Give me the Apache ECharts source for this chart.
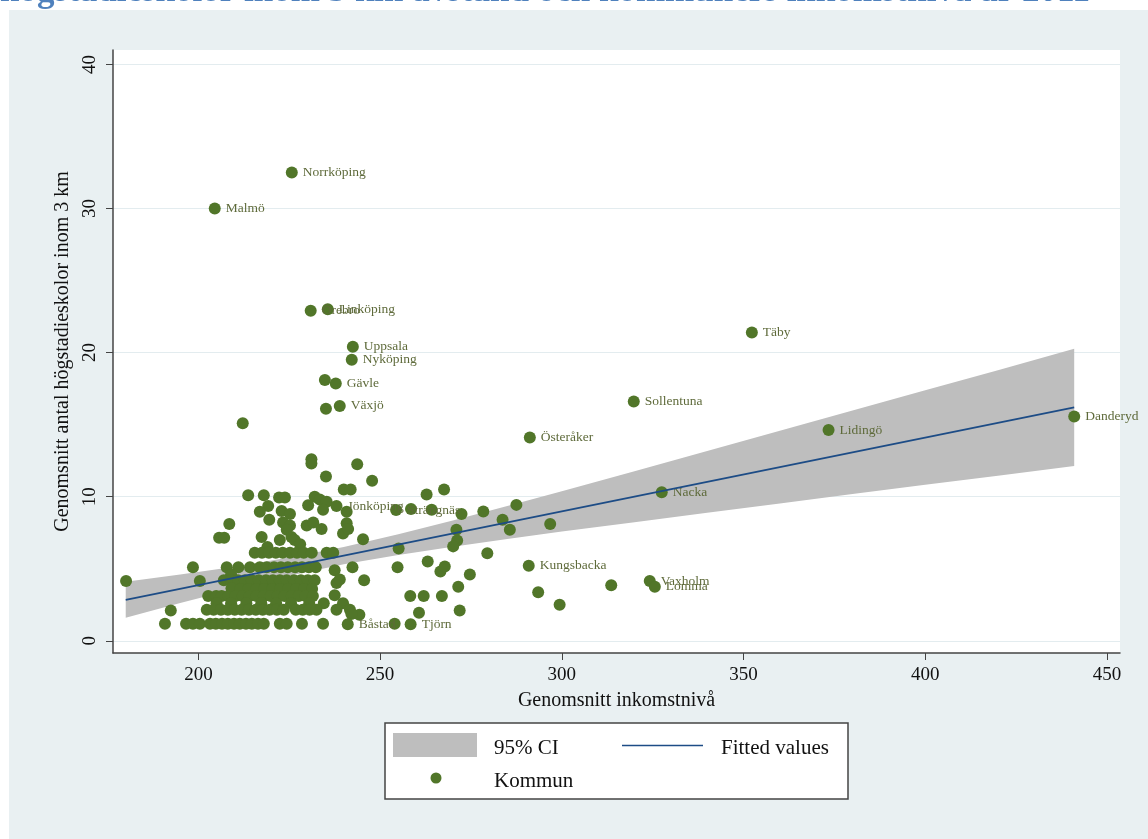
<!DOCTYPE html>
<html>
<head>
<meta charset="utf-8">
<title>Högstadieskolor och inkomstnivå</title>
<script src="https://cdn.jsdelivr.net/npm/echarts/dist/echarts.min.js"></script>
<style>
  html, body { margin: 0; padding: 0; background: #fff; }
  #chart { width: 1148px; height: 839px; }
</style>
</head>
<body>
<div id="chart"></div>
<script>
// tick values
const xTicks = [200, 250, 300, 350, 400, 450]
const yTicks = [0, 10, 20, 30, 40]

// fitted line (endpoints) and 95% CI band
const fitX = [180, 441]
const fitY = [2.84, 16.2]
const ciX  = [180, 195, 210, 225, 240, 255, 270, 285, 300, 320, 340, 360, 380, 400, 420, 441]
const ciLo = [1.59, 2.62, 3.60, 4.51, 5.31, 5.96, 6.53, 7.06, 7.58, 8.23, 8.89, 9.53, 10.18, 10.82, 11.46, 12.13]
const ciHi = [4.09, 4.60, 5.14, 5.77, 6.51, 7.40, 8.35, 9.36, 10.38, 11.77, 13.17, 14.57, 15.98, 17.38, 18.78, 20.27]

// labelled kommuner
const namn  = ['Norrköping', 'Malmö', 'Örebro', 'Linköping', 'Uppsala', 'Nyköping', 'Gävle', 'Växjö', 'Täby',
  'Sollentuna', 'Österåker', 'Lidingö', 'Danderyd', 'Nacka', 'Jönköping', 'Strängnäs', 'Kungsbacka', 'Vaxholm',
  'Lomma', 'Båstad', 'Tjörn']
const namnX = [225.7, 204.5, 230.9, 235.6, 242.5, 242.2, 237.8, 238.9, 352.3, 319.8, 291.2, 373.4, 441.0, 327.5,
  238.0, 254.4, 290.9, 324.2, 325.6, 241.1, 258.4]
const namnY = [32.5, 30.0, 22.9, 23.0, 20.4, 19.5, 17.85, 16.3, 21.4, 16.6, 14.1, 14.63, 15.56, 10.3,
  9.35, 9.07, 5.2, 4.15, 3.74, 1.15, 1.15]

// other kommuner [inkomst, skolor]
const ovriga = [
  [234.8,18.1],[235.1,16.1],[212.2,15.1],
  [231.1,12.6],[231.1,12.3],[243.7,12.25],[235.1,11.4],[247.8,11.1],[240.0,10.5],[241.9,10.5],[262.8,10.15],[267.6,10.5],
  [213.7,10.1],[218.0,10.1],[222.2,9.95],[223.8,9.95],[232.0,10.0],[233.4,9.8],[235.3,9.65],
  [230.2,9.4],[234.3,9.1],[240.8,8.95],[219.2,9.35],[216.9,8.95],[222.9,9.0],[225.2,8.8],
  [258.5,9.15],[264.2,9.1],[272.4,8.8],[278.4,8.97],[287.5,9.43],[283.7,8.4],[285.7,7.7],[296.8,8.1],
  [219.5,8.4],[208.5,8.1],[223.3,8.2],[225.2,8.0],[229.8,8.0],[231.6,8.2],[233.9,7.75],[240.8,8.15],[239.8,7.45],
  [241.2,7.75],[271.0,7.7],[224.3,7.7],
  [205.7,7.15],[207.1,7.15],[217.4,7.2],[222.4,7.0],[225.6,7.2],[226.5,7.0],[245.3,7.05],[271.2,6.95],[270.1,6.55],
  [279.5,6.07],[255.1,6.4],[228.0,6.7],[219.0,6.5],
  [215.5,6.1],[217.5,6.1],[219.4,6.1],[221.3,6.1],[223.2,6.1],[225.2,6.1],[227.1,6.1],[229.0,6.1],[231.2,6.1],
  [235.3,6.1],[237.1,6.1],
  [198.5,5.1],[207.8,5.1],[211.0,5.1],[214.2,5.1],[216.9,5.1],[218.8,5.1],[220.8,5.1],[222.7,5.1],[224.6,5.1],
  [226.6,5.1],[228.5,5.1],[230.4,5.1],[232.3,5.1],[237.5,4.9],[242.4,5.1],[254.8,5.1],[263.1,5.5],[266.6,4.8],
  [267.8,5.15],[274.7,4.6],[271.5,3.75],[209.0,4.6],
  [180.1,4.15],[200.4,4.15],[207.0,4.2],[208.9,4.2],[210.9,4.2],[212.8,4.2],[214.7,4.2],[216.6,4.2],[218.6,4.2],
  [220.5,4.2],[222.4,4.2],[224.3,4.2],[226.3,4.2],[228.2,4.2],[230.1,4.2],[232.0,4.2],[238.0,4.0],[238.9,4.25],[245.6,4.2],
  [209.1,3.65],[211.5,3.6],[213.7,3.6],[215.9,3.6],[218.1,3.6],[220.3,3.6],[222.5,3.6],[224.7,3.6],[226.9,3.6],
  [229.1,3.6],[231.3,3.6],[313.6,3.85],
  [202.7,3.1],[204.9,3.1],[206.4,3.1],[208.3,3.1],[210.2,3.1],[212.2,3.1],[214.1,3.1],[216.0,3.1],[218.0,3.1],
  [219.9,3.1],[221.8,3.1],[223.7,3.1],[225.7,3.1],[227.6,3.1],[229.5,3.1],[231.5,3.1],[237.5,3.15],[258.3,3.1],
  [262.0,3.1],[267.0,3.1],[293.5,3.37],
  [205.0,2.6],[209.0,2.6],[213.2,2.6],[217.3,2.6],[221.4,2.6],[225.5,2.6],[230.5,2.6],[234.5,2.6],[239.8,2.6],[299.4,2.5],
  [192.4,2.1],[202.3,2.15],[204.2,2.15],[206.2,2.15],[208.1,2.15],[210.0,2.15],[211.9,2.15],[213.9,2.15],[215.8,2.15],
  [217.7,2.15],[219.6,2.15],[221.6,2.15],[223.5,2.15],[226.8,2.15],[228.7,2.15],[230.6,2.15],[232.5,2.15],[238.0,2.15],
  [241.7,2.15],[271.9,2.1],[260.7,1.95],[244.3,1.8],[242.1,1.85],
  [190.8,1.18],[196.6,1.18],[198.5,1.18],[200.4,1.18],[203.2,1.18],[204.8,1.18],[206.5,1.18],[208.1,1.18],[209.8,1.18],
  [211.4,1.18],[213.1,1.18],[214.7,1.18],[216.4,1.18],[218.0,1.18],[222.4,1.18],[224.3,1.18],[228.5,1.18],[234.3,1.18],[254.0,1.18]
]

const serif = 'Liberation Serif'
const green = '#517629'
const navy = '#1d4c86'
const ciGray = '#bebebe'

const chart = echarts.init(document.getElementById('chart'))

// band polygon: upper edge left->right, lower edge right->left
function renderBand(params, api) {
  if (params.dataIndex !== 0) return null
  const pts = []
  for (let i = 0; i < ciX.length; i++) pts.push(api.coord([ciX[i], ciHi[i]]))
  for (let i = ciX.length - 1; i >= 0; i--) pts.push(api.coord([ciX[i], ciLo[i]]))
  return { type: 'polygon', shape: { points: pts }, style: { fill: ciGray } }
}

chart.setOption({
  animation: false,
  backgroundColor: '#fff',
  graphic: [
    { type: 'rect', silent: true, z: -10, shape: { x: 9, y: 10, width: 1139, height: 829 }, style: { fill: '#e9f0f2' } },
    { type: 'text', silent: true, x: 0, y: -8,
      style: { text: 'högstadieskolor inom 3 km avstånd och kommuners inkomstnivå år 2011', fill: '#4f81bd',
        font: 'bold 35px "Liberation Serif"', verticalAlign: 'middle' } },
    // legend box
    { type: 'rect', silent: true, shape: { x: 385, y: 723, width: 463, height: 76 },
      style: { fill: '#fff', stroke: '#444', lineWidth: 1.5 } },
    { type: 'rect', silent: true, shape: { x: 393, y: 733, width: 84, height: 24 }, style: { fill: ciGray } },
    { type: 'text', silent: true, x: 494, y: 748,
      style: { text: '95% CI', fill: '#111', font: '21px "Liberation Serif"', verticalAlign: 'middle' } },
    { type: 'line', silent: true, shape: { x1: 622, y1: 745.5, x2: 703, y2: 745.5 }, style: { stroke: navy, lineWidth: 1.6 } },
    { type: 'text', silent: true, x: 721, y: 748,
      style: { text: 'Fitted values', fill: '#111', font: '21px "Liberation Serif"', verticalAlign: 'middle' } },
    { type: 'circle', silent: true, shape: { cx: 436, cy: 778, r: 5.5 }, style: { fill: green } },
    { type: 'text', silent: true, x: 494, y: 781,
      style: { text: 'Kommun', fill: '#111', font: '21px "Liberation Serif"', verticalAlign: 'middle' } }
  ],
  grid: { left: 113, right: 28, top: 50, bottom: 186, show: true, backgroundColor: '#fff', borderWidth: 0 },
  xAxis: {
    type: 'value', min: 176.5, max: 453.6,
    name: 'Genomsnitt inkomstnivå', nameLocation: 'middle', nameGap: 38,
    nameTextStyle: { fontFamily: serif, fontSize: 20, color: '#111' },
    axisLine: { show: true, onZero: false, lineStyle: { color: '#444', width: 1.5 } },
    axisTick: { show: true, length: 7, customValues: xTicks, lineStyle: { color: '#444' } },
    axisLabel: { customValues: xTicks, margin: 13, fontFamily: serif, fontSize: 19, color: '#111' },
    splitLine: { show: false }
  },
  yAxis: {
    type: 'value', min: -0.85, max: 41,
    name: 'Genomsnitt antal högstadieskolor inom 3 km', nameLocation: 'middle', nameGap: 38,
    nameTextStyle: { fontFamily: serif, fontSize: 20, color: '#111' },
    axisLine: { show: true, onZero: false, lineStyle: { color: '#444', width: 1.5 } },
    axisTick: { show: true, length: 7, customValues: yTicks, lineStyle: { color: '#444' } },
    axisLabel: { customValues: yTicks, rotate: 90, margin: 13, fontFamily: serif, fontSize: 19, color: '#111' },
    splitLine: { show: true, lineStyle: { color: '#e3ecef', width: 1.2 } }
  },
  series: [
    { name: '95% CI', type: 'custom', silent: true, renderItem: renderBand, clip: false,
      encode: { x: 0, y: [1, 2] },
      data: ciX.map((x, i) => [x, ciLo[i], ciHi[i]]) },
    { name: 'Fitted values', type: 'line', silent: true, symbol: 'none',
      data: fitX.map((x, i) => [x, fitY[i]]), lineStyle: { color: navy, width: 1.8 } },
    { name: 'Kommun', type: 'scatter', silent: true, symbolSize: 12,
      data: ovriga, itemStyle: { color: green, opacity: 1 } },
    { name: 'Kommun namn', type: 'scatter', silent: true, symbolSize: 12,
      data: namn.map((n, i) => ({ name: n, value: [namnX[i], namnY[i]] })),
      itemStyle: { color: green, opacity: 1 },
      label: { show: true, position: 'right', distance: 5, padding: [7, 0, 0, 0], formatter: '{b}',
        fontFamily: serif, fontSize: 13.5, color: '#5e6a3a' },
      labelLayout: { hideOverlap: false } }
  ]
})
</script>
</body>
</html>
